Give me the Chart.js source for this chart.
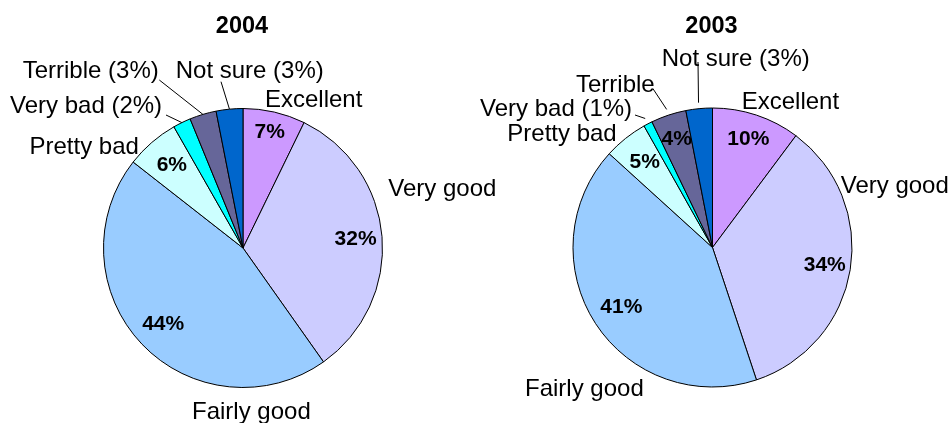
<!DOCTYPE html>
<html lang="en">
<head>
<meta charset="UTF-8">
<title>2004 / 2003</title>
<script src="https://cdn.jsdelivr.net/npm/chart.js"></script>
<style>
  body { margin: 0; background: #fff; }
  .wrap { position: relative; width: 951px; height: 423px; }
  .wrap canvas { position: absolute; left: 0; top: 0; }
</style>
</head>
<body>
<div class="wrap">
  <canvas id="pie2004" width="951" height="423"></canvas>
  <canvas id="pie2003" width="951" height="423"></canvas>
</div>
<script>
const categories = ["Excellent", "Very good", "Fairly good", "Pretty bad", "Very bad", "Terrible", "Not sure"];
const values2004 = [7, 32, 44, 6, 2, 3, 3];
const values2003 = [10, 34, 41, 5, 1, 4, 3];
const sliceColors = ["#CC99FF", "#CCCCFF", "#99CCFF", "#CCFFFF", "#00FFFF", "#666699", "#0066CC"];

const FONT = '"Liberation Sans", Arial, sans-serif';

// draws title, percentages inside the slices and the names outside
const sliceLabels = {
    id: "sliceLabels",
    afterDatasetsDraw(chart, args, opts) {
        const ctx = chart.ctx;
        const arcs = chart.getDatasetMeta(0).data;
        const vals = chart.data.datasets[0].data;
        ctx.save();
        ctx.fillStyle = "#000";
        ctx.strokeStyle = "#000";
        ctx.lineWidth = 1;

        ctx.font = "bold 23.5px " + FONT;
        ctx.textAlign = "center";
        ctx.textBaseline = "alphabetic";
        ctx.fillText(opts.title, opts.titleX, 32.5);

        ctx.font = "bold 21px " + FONT;
        ctx.textBaseline = "middle";
        opts.inside.forEach((f, i) => {
            if (!f) return;
            const a = arcs[i];
            const mid = (a.startAngle + a.endAngle) / 2;
            const r = a.outerRadius * f;
            ctx.fillText(vals[i] + "%", a.x + Math.cos(mid) * r, a.y + Math.sin(mid) * r);
        });

        ctx.font = "24px " + FONT;
        ctx.textAlign = "left";
        ctx.textBaseline = "alphabetic";
        opts.outside.forEach((o, i) => {
            const text = opts.inside[i] ? chart.data.labels[i] : chart.data.labels[i] + " (" + vals[i] + "%)";
            ctx.fillText(text, o.x, o.y);
            if (o.lx === undefined) return;
            const a = arcs[i];
            const mid = (a.startAngle + a.endAngle) / 2;
            const r = a.outerRadius + opts.gap;
            ctx.beginPath();
            ctx.moveTo(o.lx, o.ly);
            ctx.lineTo(a.x + Math.cos(mid) * r, a.y + Math.sin(mid) * r);
            ctx.stroke();
        });
        ctx.restore();
    }
};

function makePie(id, values, padding, labelOpts) {
    return new Chart(document.getElementById(id), {
        type: "pie",
        data: {
            labels: categories,
            datasets: [{
                data: values,
                backgroundColor: sliceColors,
                borderColor: "#000",
                borderWidth: 1
            }]
        },
        options: {
            responsive: false,
            animation: false,
            layout: { padding: padding },
            plugins: {
                legend: { display: false },
                tooltip: { enabled: false },
                sliceLabels: labelOpts
            }
        },
        plugins: [sliceLabels]
    });
}

makePie("pie2004", values2004,
    { left: 103, right: 568, top: 108, bottom: 35 },
    {
        title: "2004", titleX: 242, gap: 0,
        inside: [0.85, 0.81, 0.79, 0.78, null, null, null],
        outside: [
            { x: 265, y: 107.2 },
            { x: 388.3, y: 196 },
            { x: 192, y: 418.5 },
            { x: 29.5, y: 153.7 },
            { x: 10, y: 112.5, lx: 166, ly: 115 },
            { x: 22.7, y: 77.7, lx: 159.3, ly: 80 },
            { x: 175.7, y: 77.7, lx: 221, ly: 81.7 }
        ]
    });

makePie("pie2003", values2003,
    { left: 572.5, right: 98.5, top: 107.5, bottom: 35.5 },
    {
        title: "2003", titleX: 711.5, gap: 6,
        inside: [0.815, 0.815, 0.78, 0.78, null, 0.815, null],
        outside: [
            { x: 741.7, y: 108.9 },
            { x: 840.7, y: 192.5 },
            { x: 525, y: 395.5 },
            { x: 507.3, y: 140.5 },
            { x: 480, y: 115.5, lx: 635, ly: 115 },
            { x: 576, y: 92.2, lx: 652.7, ly: 88.3 },
            { x: 661.7, y: 65.5, lx: 698, ly: 62 }
        ]
    });
</script>
</body>
</html>
